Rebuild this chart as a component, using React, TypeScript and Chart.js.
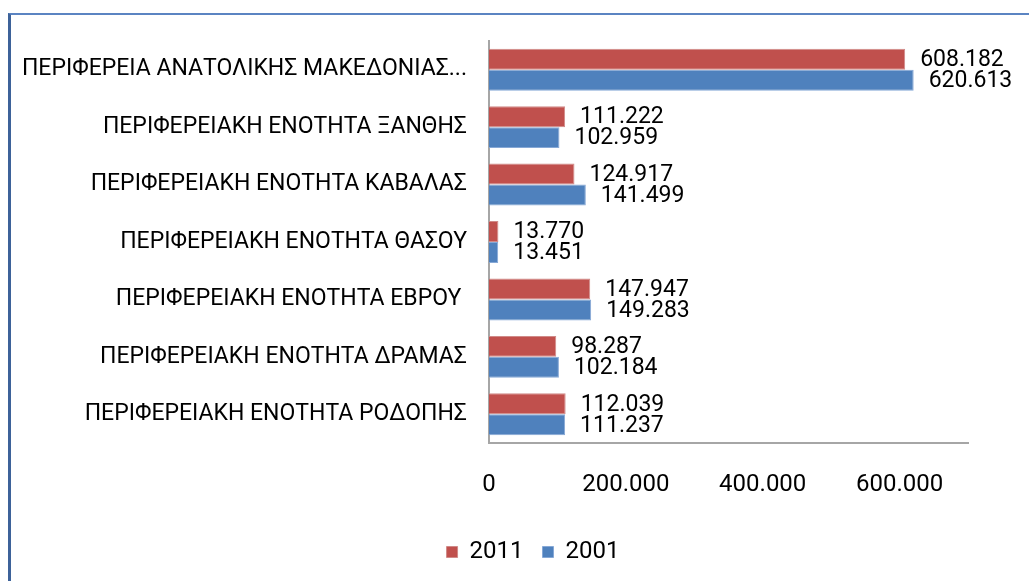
import React, { useEffect, useRef } from "react";
import { Chart, registerables } from "chart.js";

Chart.register(...registerables);

const categories = [
  "ΠΕΡΙΦΕΡΕΙΑ ΑΝΑΤΟΛΙΚΗΣ ΜΑΚΕΔΟΝΙΑΣ...",
  "ΠΕΡΙΦΕΡΕΙΑΚΗ ΕΝΟΤΗΤΑ ΞΑΝΘΗΣ",
  "ΠΕΡΙΦΕΡΕΙΑΚΗ ΕΝΟΤΗΤΑ ΚΑΒΑΛΑΣ",
  "ΠΕΡΙΦΕΡΕΙΑΚΗ ΕΝΟΤΗΤΑ ΘΑΣΟΥ",
  "ΠΕΡΙΦΕΡΕΙΑΚΗ ΕΝΟΤΗΤΑ ΕΒΡΟΥ ",
  "ΠΕΡΙΦΕΡΕΙΑΚΗ ΕΝΟΤΗΤΑ ΔΡΑΜΑΣ",
  "ΠΕΡΙΦΕΡΕΙΑΚΗ ΕΝΟΤΗΤΑ ΡΟΔΟΠΗΣ",
];
const values2011 = [608182, 111222, 124917, 13770, 147947, 98287, 112039];
const values2001 = [620613, 102959, 141499, 13451, 149283, 102184, 111237];
const seriesLabels = ["2011", "2001"];
const xTickValues = [0, 200000, 400000, 600000];
const xMax = 700000;

const fmt = (n: number) =>
  Math.round(n).toString().replace(/\B(?=(\d{3})+(?!\d))/g, ".");

const FONT = "Roboto, 'Liberation Sans', Arial, sans-serif";

const dataLabelPlugin = {
  id: "dataLabels",
  afterDatasetsDraw(chart: any) {
    const ctx = chart.ctx;
    ctx.save();
    ctx.font = `23px ${FONT}`;
    ctx.fillStyle = "#000000";
    ctx.textAlign = "left";
    ctx.textBaseline = "middle";
    chart.data.datasets.forEach((ds: any, i: number) => {
      const meta = chart.getDatasetMeta(i);
      meta.data.forEach((el: any, j: number) => {
        ctx.fillText(fmt(ds.data[j]), el.x + 15, el.y + 1);
      });
    });
    ctx.restore();
  },
};

const legendShiftPlugin = {
  id: "legendShift",
  afterLayout(chart: any) {
    const lg = chart.legend;
    if (lg) {
      lg.left += 49;
      lg.right += 49;
      lg.top -= 7;
      lg.bottom -= 7;
    }
  },
};

export default function App() {
  const ref = useRef<HTMLCanvasElement | null>(null);
  useEffect(() => {
    if (!ref.current) return;
    const chart = new Chart(ref.current, {
      type: "bar",
      data: {
        labels: categories,
        datasets: [
          {
            label: seriesLabels[0],
            data: values2011,
            backgroundColor: "#c0504d",
            borderColor: "#d08a88",
            borderWidth: 1,
          },
          {
            label: seriesLabels[1],
            data: values2001,
            backgroundColor: "#4f81bd",
            borderColor: "#86a8d6",
            borderWidth: 1,
          },
        ],
      },
      options: {
        indexAxis: "y",
        responsive: false,
        animation: false,
        devicePixelRatio: 1,
        layout: { padding: { left: 0, right: 61, top: 41, bottom: 0 } },
        datasets: { bar: { categoryPercentage: 0.73, barPercentage: 1 } },
        scales: {
          x: {
            min: 0,
            max: xMax,
            grid: { display: false, drawTicks: false, tickLength: 0 },
            border: { display: true, color: "#a6a6a6", width: 2 },
            afterBuildTicks: (scale: any) => {
              scale.ticks = xTickValues.map((v) => ({ value: v }));
            },
            afterFit: (scale: any) => {
              scale.height = 85;
            },
            ticks: {
              padding: 28,
              color: "#000000",
              font: { family: FONT, size: 24 },
              callback: (v: any) => fmt(Number(v)),
              maxRotation: 0,
            },
          },
          y: {
            grid: { display: false, drawTicks: false, tickLength: 0 },
            border: { display: true, color: "#a6a6a6", width: 2 },
            afterFit: (scale: any) => {
              scale.width = 489;
            },
            ticks: {
              padding: 22,
              color: "#000000",
              font: { family: FONT, size: 23 },
              autoSkip: false,
            },
          },
        },
        plugins: {
          legend: {
            position: "bottom",
            labels: {
              boxWidth: 11,
              boxHeight: 11,
              padding: 19,
              color: "#000000",
              font: { family: FONT, size: 24 },
            },
          },
          tooltip: { enabled: false },
        },
      },
      plugins: [dataLabelPlugin, legendShiftPlugin],
    } as any);
    return () => chart.destroy();
  }, []);

  return (
    <>
      <div
        style={{
          position: "fixed",
          left: 8,
          top: 13,
          width: 1200,
          height: 800,
          borderLeft: "3px solid #3d6299",
          borderTop: "2px solid #5b84c2",
          background: "#ffffff",
        }}
      />
      <div style={{ position: "fixed", left: 0, top: 0, width: 1029, height: 581 }}>
        <canvas ref={ref} width={1029} height={581} style={{ display: "block" }} />
      </div>
    </>
  );
}
